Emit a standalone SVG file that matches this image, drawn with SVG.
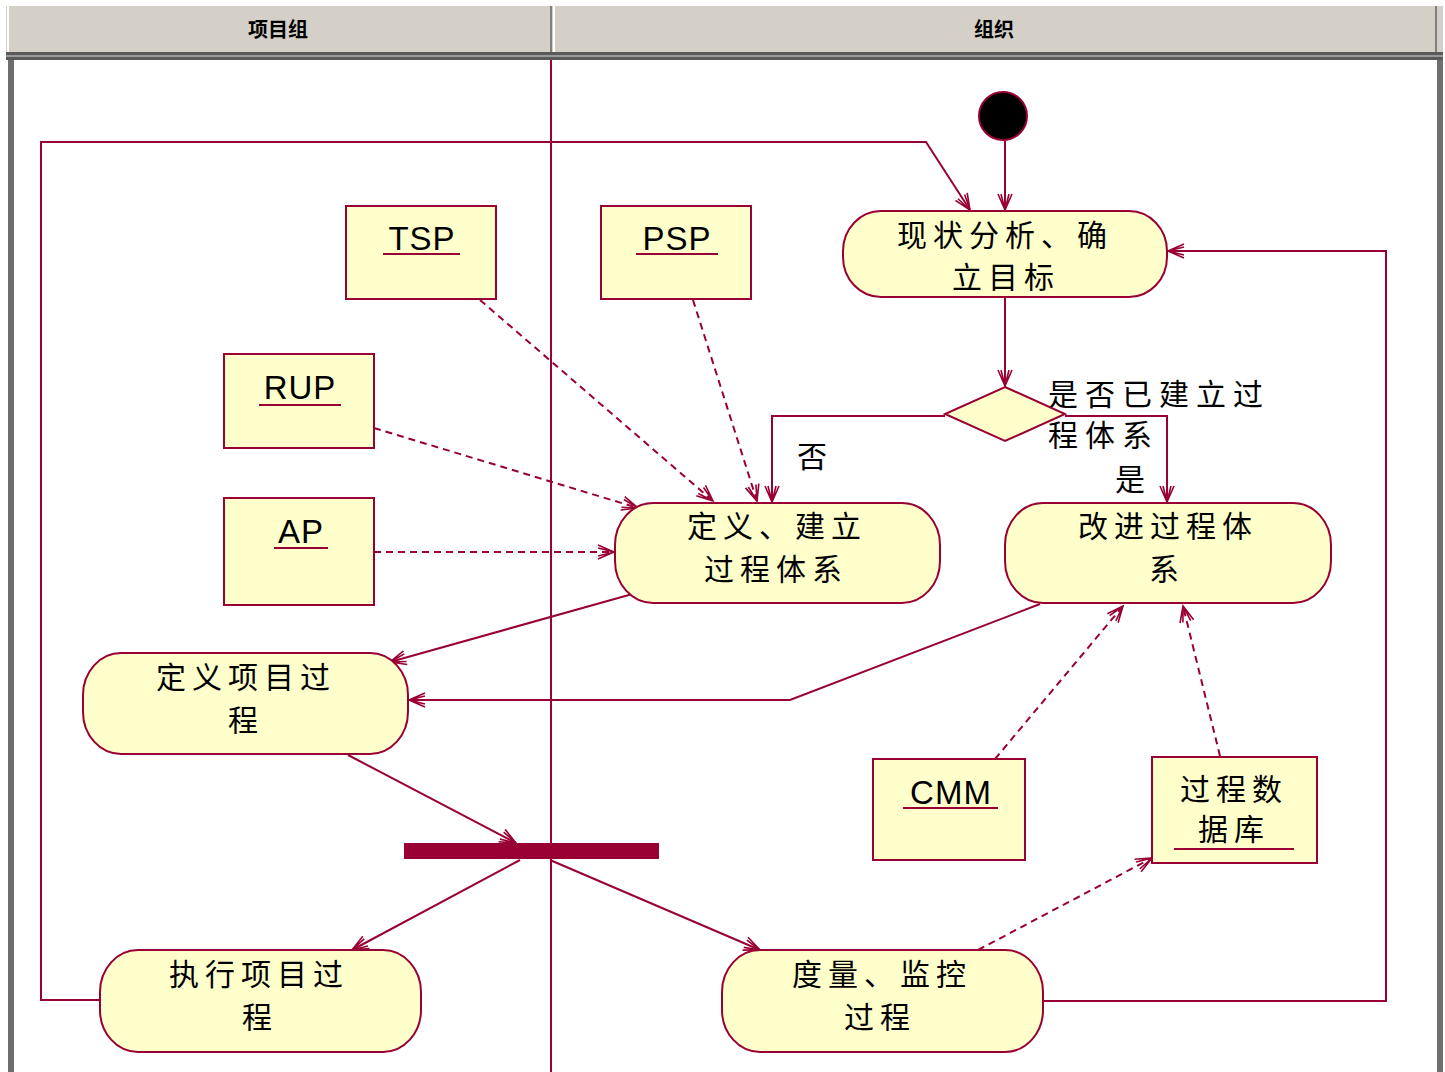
<svg xmlns="http://www.w3.org/2000/svg" width="1445" height="1072" viewBox="0 0 1445 1072">
<defs>
<style>
.ln{fill:none;stroke:#990033;stroke-width:2}
.dash{fill:none;stroke:#990033;stroke-width:2;stroke-dasharray:7,5}
.act{fill:#FFFFCC;stroke:#990033;stroke-width:2}
.obj{fill:#FFFFCC;stroke:#990033;stroke-width:2}
.t{font-family:"Noto Sans CJK SC","Liberation Sans",sans-serif;font-size:30px;fill:#000;text-anchor:middle;letter-spacing:6px}
.l{font-family:"Liberation Sans","Noto Sans",sans-serif;font-size:33px;fill:#000;text-anchor:middle;letter-spacing:1px}
.h{font-family:"Noto Sans CJK SC","Liberation Sans",sans-serif;font-size:20px;font-weight:bold;fill:#000;text-anchor:middle}
.ul{stroke:#990033;stroke-width:2}
</style>
<marker id="a" markerUnits="userSpaceOnUse" markerWidth="20" markerHeight="18" refX="17" refY="8" orient="auto" viewBox="0 0 20 16">
<path d="M1,1 L17,8 L1,15 M1,4 L17,8 L1,12" fill="none" stroke="#990033" stroke-width="1.6"/>
</marker>
</defs>
<rect width="1445" height="1072" fill="#fff"/>
<g id="header">
<rect x="6" y="6" width="1437" height="48" fill="#D4D0C8"/>
<line x1="8" y1="6" x2="8" y2="52" stroke="#fff" stroke-width="2"/>
<line x1="551" y1="6" x2="551" y2="52" stroke="#808080" stroke-width="2"/>
<line x1="554" y1="6" x2="554" y2="52" stroke="#fff" stroke-width="2"/>
<line x1="1436" y1="6" x2="1436" y2="52" stroke="#808080" stroke-width="2"/>
<rect x="6" y="52" width="1437" height="8" fill="#5a5a5a"/>
<rect x="6" y="55" width="1437" height="2" fill="#9a9a9a"/>
<text class="h" x="278" y="37">项目组</text>
<text class="h" x="994" y="37">组织</text>
</g>
<g id="frame">
<rect x="8" y="60" width="6" height="1012" fill="#6e6e6e"/>
<rect x="1437" y="60" width="6" height="1012" fill="#6e6e6e"/>
<line x1="551" y1="60" x2="551" y2="1072" stroke="#990033" stroke-width="2"/>
</g>
<g id="connectors">
<line class="ln" x1="1005" y1="140" x2="1005" y2="210" marker-end="url(#a)"/>
<polyline class="ln" points="100,1000 41,1000 41,142 926,142 970,210" marker-end="url(#a)"/>
<line class="ln" x1="1005" y1="297" x2="1005" y2="386" marker-end="url(#a)"/>
<polyline class="ln" points="945,416 772,416 772,502" marker-end="url(#a)"/>
<polyline class="ln" points="1065,416 1167,416 1167,502" marker-end="url(#a)"/>
<polyline class="ln" points="1043,1001 1386,1001 1386,251 1168,251" marker-end="url(#a)"/>
<line class="ln" x1="636" y1="593" x2="390" y2="662" marker-end="url(#a)"/>
<polyline class="ln" points="1040,604 790,700 409,700" marker-end="url(#a)"/>
<line class="ln" x1="348" y1="755" x2="516" y2="843" marker-end="url(#a)"/>
<line class="ln" x1="520" y1="860" x2="352" y2="950" marker-end="url(#a)"/>
<line class="ln" x1="550" y1="860" x2="760" y2="950" marker-end="url(#a)"/>
<line class="dash" x1="480" y1="300" x2="713" y2="501" marker-end="url(#a)"/>
<line class="dash" x1="693" y1="300" x2="757" y2="501" marker-end="url(#a)"/>
<line class="dash" x1="374" y1="428" x2="638" y2="508" marker-end="url(#a)"/>
<line class="dash" x1="374" y1="552" x2="614" y2="552" marker-end="url(#a)"/>
<line class="dash" x1="995" y1="759" x2="1123" y2="606" marker-end="url(#a)"/>
<line class="dash" x1="1220" y1="756" x2="1183" y2="606" marker-end="url(#a)"/>
<line class="dash" x1="978" y1="950" x2="1152" y2="858" marker-end="url(#a)"/>
<text class="t" x="815" y="467">否</text>
<text class="t" x="1048" y="405" style="text-anchor:start;letter-spacing:7px">是否已建立过</text>
<text class="t" x="1048" y="446" style="text-anchor:start;letter-spacing:7px">程体系</text>
<text class="t" x="1133" y="490">是</text>
</g>
<g id="start"><circle cx="1003" cy="116" r="24" fill="#000" stroke="#990033" stroke-width="2"/></g>
<g id="a1"><rect class="act" x="843" y="211" width="324" height="86" rx="38" ry="40"/>
<text class="t" x="1005" y="246">现状分析、确</text><text class="t" x="1006" y="288">立目标</text></g>
<g id="decision"><polygon class="act" points="1005,387 1065,414 1005,441 945,414"/></g>
<g id="a2"><rect class="act" x="615" y="503" width="325" height="100" rx="38" ry="42"/>
<text class="t" x="777" y="537">定义、建立</text><text class="t" x="776" y="580">过程体系</text></g>
<g id="a3"><rect class="act" x="1005" y="503" width="326" height="100" rx="38" ry="42"/>
<text class="t" x="1168" y="537">改进过程体</text><text class="t" x="1167" y="580">系</text></g>
<g id="a4"><rect class="act" x="83" y="653" width="325" height="101" rx="38" ry="42"/>
<text class="t" x="246" y="688">定义项目过</text><text class="t" x="246" y="731">程</text></g>
<g id="a5"><rect class="act" x="100" y="950" width="321" height="102" rx="38" ry="42"/>
<text class="t" x="259" y="985">执行项目过</text><text class="t" x="260" y="1028">程</text></g>
<g id="a6"><rect class="act" x="722" y="950" width="321" height="102" rx="38" ry="42"/>
<text class="t" x="882" y="985">度量、监控</text><text class="t" x="880" y="1028">过程</text></g>
<g id="bar"><rect x="404" y="843" width="255" height="16" fill="#990033"/></g>
<g id="tsp"><rect class="obj" x="346" y="206" width="150" height="93"/><text class="l" x="422" y="250">TSP</text><line class="ul" x1="383" y1="254" x2="460" y2="254"/></g>
<g id="psp"><rect class="obj" x="601" y="206" width="150" height="93"/><text class="l" x="677" y="250">PSP</text><line class="ul" x1="636" y1="254" x2="718" y2="254"/></g>
<g id="rup"><rect class="obj" x="224" y="354" width="150" height="94"/><text class="l" x="300" y="399">RUP</text><line class="ul" x1="259" y1="405" x2="341" y2="405"/></g>
<g id="ap"><rect class="obj" x="224" y="498" width="150" height="107"/><text class="l" x="301" y="543">AP</text><line class="ul" x1="274" y1="548" x2="328" y2="548"/></g>
<g id="cmm"><rect class="obj" x="873" y="759" width="152" height="101"/><text class="l" x="951" y="804">CMM</text><line class="ul" x1="903" y1="808" x2="998" y2="808"/></g>
<g id="db"><rect class="obj" x="1152" y="757" width="165" height="106"/><text class="t" x="1234" y="800">过程数</text><text class="t" x="1234" y="840">据库</text><line class="ul" x1="1174" y1="849" x2="1294" y2="849"/></g>
</svg>
